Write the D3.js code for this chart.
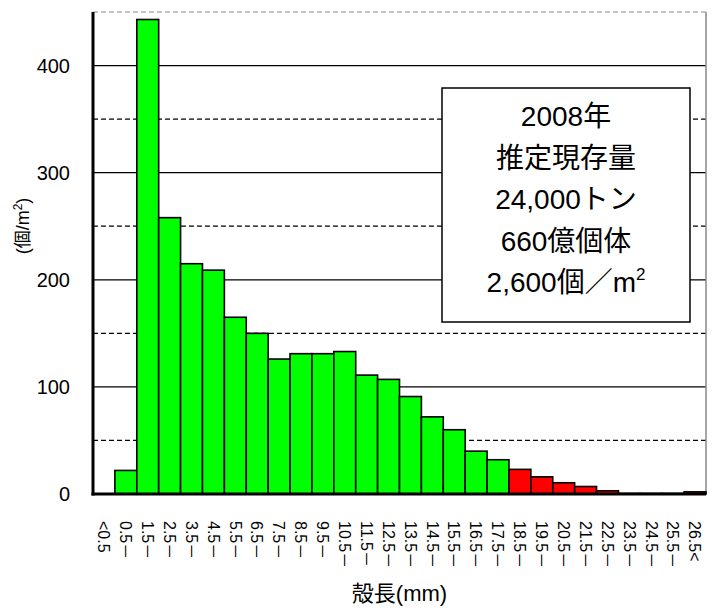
<!DOCTYPE html>
<html>
<head>
<meta charset="utf-8">
<script src="https://cdn.jsdelivr.net/npm/d3@7"></script>
<style>
  body { margin: 0; background: #fff; }
  text { font-family: "Liberation Sans", Arial, "Noto Sans CJK JP", sans-serif; fill: #000; }
  text.box { font-family: "Liberation Sans Narrow", "Liberation Sans", "Noto Sans CJK JP", sans-serif; }
</style>
</head>
<body>
<div id="chart"></div>
<script>
// shell length classes (x categories)
var categories = ["<0.5", "0.5－", "1.5－", "2.5－", "3.5－", "4.5－", "5.5－", "6.5－",
    "7.5－", "8.5－", "9.5－", "10.5－", "11.5－", "12.5－", "13.5－", "14.5－", "15.5－",
    "16.5－", "17.5－", "18.5－", "19.5－", "20.5－", "21.5－", "22.5－", "23.5－",
    "24.5－", "25.5－", "26.5<"];
// individuals per m2
var counts = [0, 22, 443, 258, 215, 209, 165, 150, 126, 131, 131, 133, 111, 107, 91,
    72, 60, 40, 32, 23, 16, 10.5, 7, 3, 0.5, 0.5, 0.5, 2];
var yTicks = [0, 100, 200, 300, 400];
var yHalfTicks = [50, 150, 250, 350];
var redFrom = "18.5－"; // classes from here on are drawn red
var boxLines = ["2008年", "推定現存量", "24,000トン", "660億個体", "2,600個／m"];

var w = 712, h = 608;
var plotLeft = 93, plotRight = 706, plotTop = 12, plotBottom = 494;

var svg = d3.select("#chart")
    .append("svg")
    .attr("width", w)
    .attr("height", h);

var xScale = d3.scaleBand()
    .domain(categories)
    .range([plotLeft, plotRight])
    .padding(0);

var yScale = d3.scaleLinear()
    .domain([0, 450])
    .range([plotBottom, plotTop]);

// grid lines
svg.selectAll("line.grid")
    .data(yTicks.filter(function(d) { return d > 0; }))
    .enter()
    .append("line")
    .attr("class", "grid")
    .attr("x1", plotLeft).attr("x2", plotRight)
    .attr("y1", function(d) { return yScale(d); })
    .attr("y2", function(d) { return yScale(d); })
    .attr("stroke", "#000")
    .attr("stroke-width", 1.2);

svg.selectAll("line.half")
    .data(yHalfTicks)
    .enter()
    .append("line")
    .attr("class", "half")
    .attr("x1", plotLeft).attr("x2", plotRight)
    .attr("y1", function(d) { return yScale(d); })
    .attr("y2", function(d) { return yScale(d); })
    .attr("stroke", "#000")
    .attr("stroke-width", 1.2)
    .attr("stroke-dasharray", "5,3");

// plot area top and right border
svg.append("line")
    .attr("x1", plotLeft).attr("x2", plotRight)
    .attr("y1", yScale(450)).attr("y2", yScale(450))
    .attr("stroke", "#888")
    .attr("stroke-dasharray", "5,3");
svg.append("line")
    .attr("x1", plotRight).attr("x2", plotRight)
    .attr("y1", yScale(450)).attr("y2", plotBottom)
    .attr("stroke", "#888")
    .attr("stroke-width", 1.5);

// bars
var redIndex = categories.indexOf(redFrom);
svg.selectAll("rect.bar")
    .data(counts)
    .enter()
    .append("rect")
    .attr("class", "bar")
    .attr("x", function(d, i) { return xScale(categories[i]); })
    .attr("y", function(d) { return yScale(d); })
    .attr("width", xScale.bandwidth())
    .attr("height", function(d) { return plotBottom - yScale(d); })
    .attr("fill", function(d, i) { return i >= redIndex ? "#ff0000" : "#00ff00"; })
    .attr("stroke", "#000")
    .attr("stroke-width", 1.6)
    .style("display", function(d) { return d > 0 ? null : "none"; });

// axes lines
svg.append("line")
    .attr("x1", plotLeft).attr("x2", plotLeft)
    .attr("y1", plotTop).attr("y2", plotBottom + 1.5)
    .attr("stroke", "#000")
    .attr("stroke-width", 3);
svg.append("line")
    .attr("x1", plotLeft - 1.5).attr("x2", plotRight)
    .attr("y1", plotBottom).attr("y2", plotBottom)
    .attr("stroke", "#000")
    .attr("stroke-width", 3);

// y tick labels
svg.selectAll("text.ytick")
    .data(yTicks)
    .enter()
    .append("text")
    .attr("class", "ytick")
    .attr("x", 70)
    .attr("y", function(d) { return yScale(d); })
    .attr("dy", "0.36em")
    .attr("text-anchor", "end")
    .style("font-size", "20px")
    .text(function(d) { return d; });

// x tick labels, rotated to read top to bottom
svg.selectAll("text.xtick")
    .data(categories)
    .enter()
    .append("text")
    .attr("class", "xtick")
    .attr("transform", function(d) {
        return "translate(" + (xScale(d) + xScale.bandwidth() / 2) + ",521) rotate(90)";
    })
    .attr("dy", "0.36em")
    .style("font-size", "16px")
    .text(function(d) { return d; });

// axis titles
svg.append("text")
    .attr("x", (plotLeft + plotRight) / 2)
    .attr("y", 601)
    .attr("text-anchor", "middle")
    .style("font-size", "22px")
    .text("殻長(mm)");

var yTitle = svg.append("text")
    .attr("transform", "translate(29,226) rotate(-90)")
    .attr("text-anchor", "middle")
    .style("font-size", "18px");
yTitle.append("tspan").text("(個/m");
yTitle.append("tspan").attr("dy", -7).style("font-size", "12px").text("2");
yTitle.append("tspan").attr("dy", 7).text(")");

// info box
svg.append("rect")
    .attr("x", 442).attr("y", 88)
    .attr("width", 248).attr("height", 234)
    .attr("fill", "#fff")
    .attr("stroke", "#000")
    .attr("stroke-width", 1.5);

var boxText = svg.selectAll("text.box")
    .data(boxLines)
    .enter()
    .append("text")
    .attr("class", "box")
    .attr("x", 566)
    .attr("y", function(d, i) { return 126 + i * 41.5; })
    .attr("text-anchor", "middle")
    .style("font-size", "28px")
    .text(function(d) { return d; });

boxText.filter(function(d, i) { return i === boxLines.length - 1; })
    .append("tspan")
    .attr("dy", -12)
    .style("font-size", "17px")
    .text("2");
</script>
</body>
</html>
